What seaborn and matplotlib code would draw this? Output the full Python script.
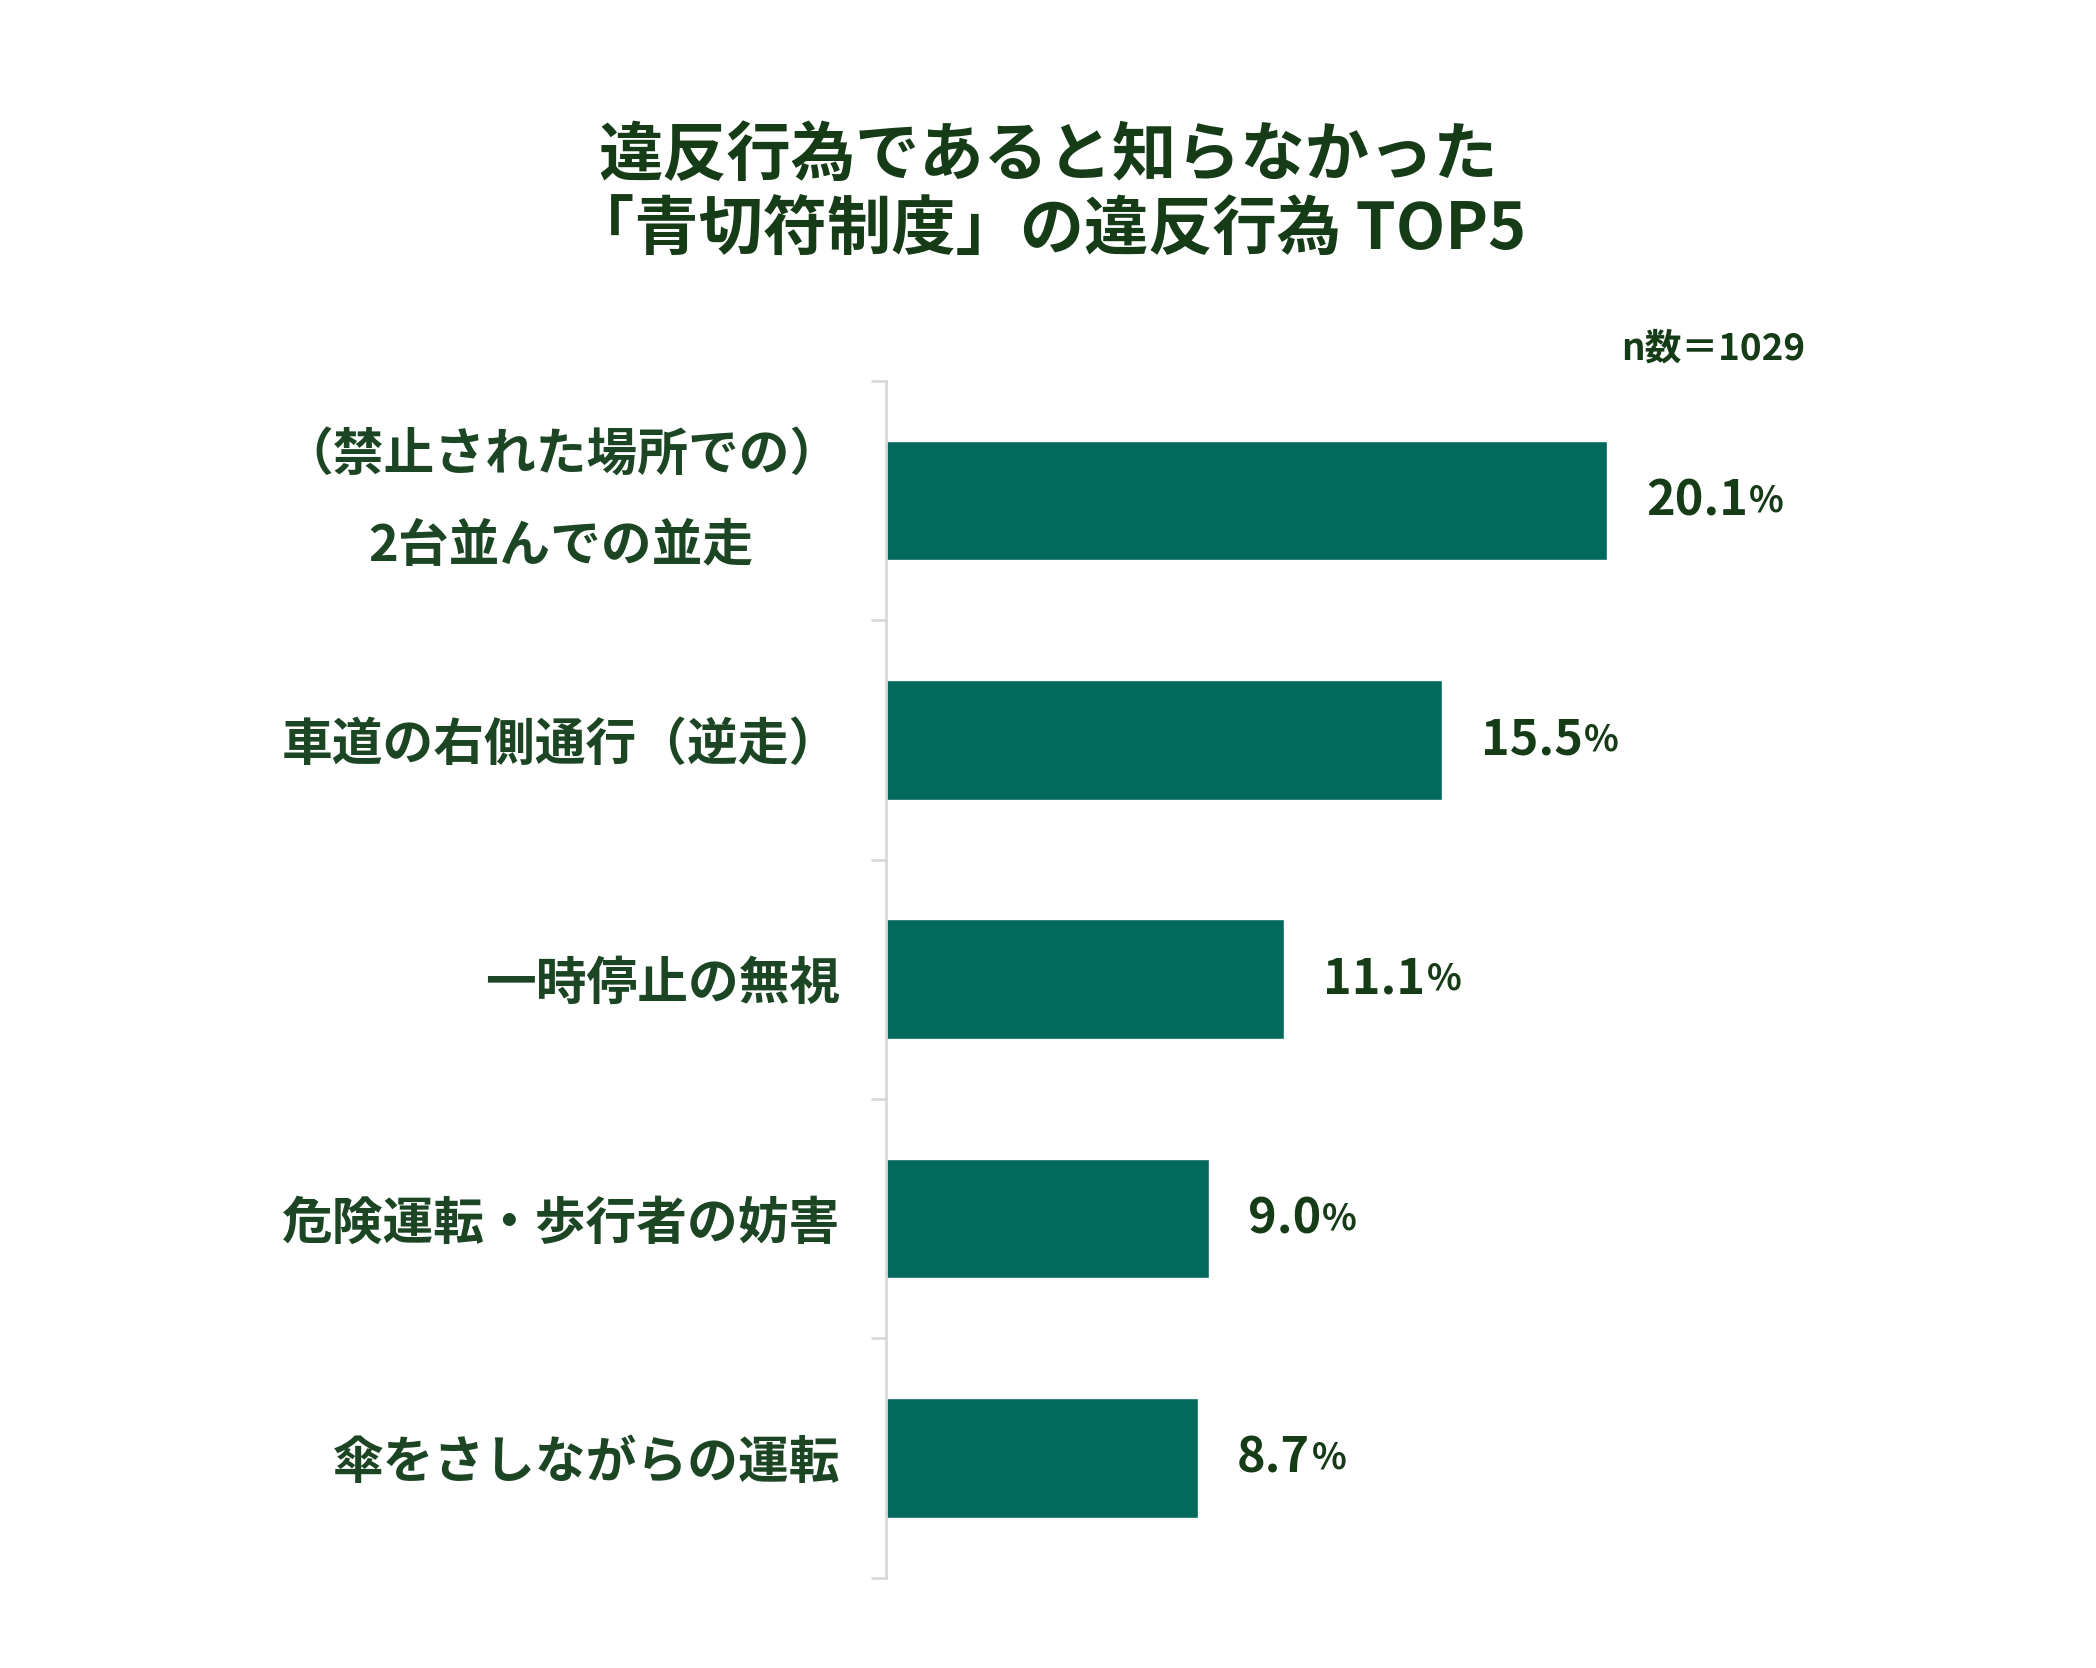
import seaborn as sns
import matplotlib.pyplot as plt
import numpy as np

# data
categories = [
    "（禁止された場所での）\n2台並んでの並走",
    "車道の右側通行（逆走）",
    "一時停止の無視",
    "危険運転・歩行者の妨害",
    "傘をさしながらの運転",
]
values = [20.1, 15.5, 11.1, 9.0, 8.7]
value_labels = ["20.1", "15.5", "11.1", "9.0", "8.7"]

title_lines = ["違反行為であると知らなかった", "「青切符制度」の違反行為 TOP5"]
sample_note = "n数＝1029"

bar_color = "#03695c"
label_color = "#1c4524"
dark_color = "#153b17"
axis_color = "#d9d9d9"

sns.set_style("white")
plt.rcParams["font.family"] = ["Noto Sans CJK JP", "DejaVu Sans"]

fig = plt.figure(figsize=(20.96, 16.68), dpi=100)
ax = fig.add_axes([0.4227, 0.0542, 0.5134, 0.7174])

sns.barplot(x=values, y=categories, orient="h", color=bar_color,
            saturation=1, width=0.5, ax=ax)

ax.set_xlim(0, 30)
ax.set_ylim(4.5, -0.5)
ax.set_xlabel("")
ax.set_ylabel("")
ax.set_xticks([])

for side in ["top", "right", "bottom"]:
    ax.spines[side].set_visible(False)
ax.spines["left"].set_color(axis_color)
ax.spines["left"].set_linewidth(2)

# boundary ticks between categories
ax.set_yticks(np.arange(-0.5, len(categories), 1), minor=True)
ax.tick_params(axis="y", which="minor", left=True, length=11, width=2,
               color=axis_color)
ax.tick_params(axis="y", which="major", length=0, pad=33)
for lab in ax.get_yticklabels():
    lab.set_fontsize(36.5)
    lab.set_fontweight("bold")
    lab.set_color(label_color)
    lab.set_multialignment("center")
    lab.set_linespacing(2.0)
    if "\n" in lab.get_text():
        lab.set_verticalalignment("center")

# value labels: number plus smaller percent sign
for i, (v, txt) in enumerate(zip(values, value_labels)):
    num = ax.annotate(txt, xy=(v, i), xytext=(28, 0), textcoords="offset points",
                      ha="left", va="center", fontsize=35, fontweight="bold",
                      color=dark_color)
    ax.annotate("%", xy=(1, 0.12), xycoords=num, xytext=(1, 0),
                textcoords="offset points", ha="left", va="bottom",
                fontsize=26, fontweight="bold", color=dark_color)

fig.text(0.5, 1 - 156 / 1668, title_lines[0], ha="center", va="center",
         fontsize=46.3, fontweight="bold", color=dark_color)
fig.text(0.5, 1 - 231 / 1668, title_lines[1], ha="center", va="center",
         fontsize=46.3, fontweight="bold", color=dark_color)
fig.text(1805 / 2096, 1 - 349 / 1668, sample_note, ha="right", va="center",
         fontsize=26.5, fontweight="bold", color=dark_color)

fig.savefig("out.png", dpi=100)
